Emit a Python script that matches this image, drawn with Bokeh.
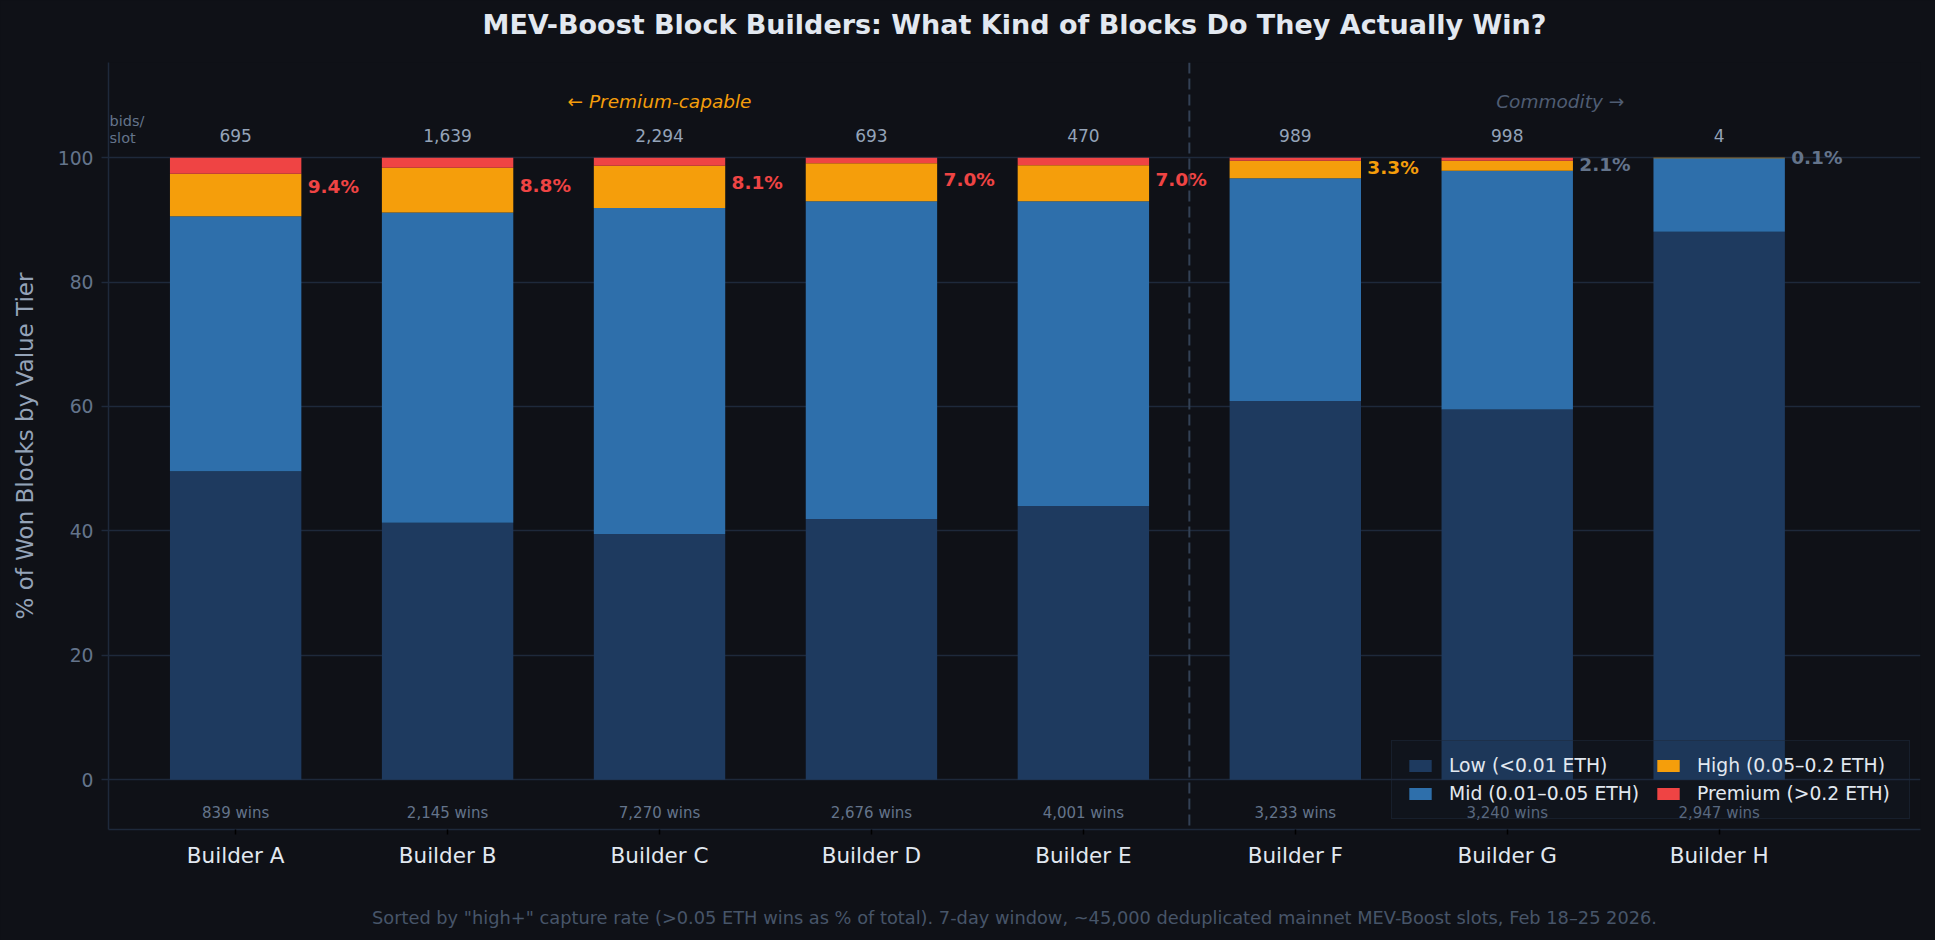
from bokeh.plotting import figure
from bokeh.models import ColumnDataSource, FixedTicker, Span, Title
from bokeh.embed import file_html
from bokeh.resources import INLINE
from bokeh.core.properties import value

# ---------------- data ----------------
builders = ["Builder A", "Builder B", "Builder C", "Builder D",
            "Builder E", "Builder F", "Builder G", "Builder H"]
low = [49.6, 41.3, 39.5, 41.9, 44.0, 60.9, 59.5, 88.1]
mid = [41.0, 49.9, 52.4, 51.1, 49.0, 35.8, 38.4, 11.8]
high = [6.8, 7.2, 6.8, 6.1, 5.8, 2.8, 1.6, 0.1]
premium = [2.6, 1.6, 1.3, 0.9, 1.2, 0.5, 0.5, 0.0]
bids_per_slot = [695, 1639, 2294, 693, 470, 989, 998, 4]
wins = [839, 2145, 7270, 2676, 4001, 3233, 3240, 2947]
tier_labels = ["Low (<0.01 ETH)", "Mid (0.01–0.05 ETH)",
               "High (0.05–0.2 ETH)", "Premium (>0.2 ETH)"]

TITLE = "MEV-Boost Block Builders: What Kind of Blocks Do They Actually Win?"
FOOTER = ('Sorted by "high+" capture rate (>0.05 ETH wins as % of total). '
          '7-day window, ~45,000 deduplicated mainnet MEV-Boost slots, Feb 18–25 2026.')

# ---------------- style ----------------
BG = "#0f1117"
GRID = "#1e293b"
C_LOW, C_MID, C_HIGH, C_PREM = "#1e3a5f", "#2e6fab", "#f59e0b", "#ef4444"
FONT = "DejaVu Sans"

xs = list(range(len(builders)))
high_plus = [round(h + p, 1) for h, p in zip(high, premium)]

src = ColumnDataSource(dict(x=xs, low=low, mid=mid, high=high, premium=premium))

p = figure(width=1935, height=940, x_range=(-0.6, 7.95), y_range=(-8, 115.3),
           output_backend="svg", toolbar_location=None,
           min_border_left=108, min_border_right=15,
           min_border_top=62, min_border_bottom=111)
p.background_fill_color = BG
p.border_fill_color = BG
p.outline_line_color = None

p.vbar_stack(["low", "mid", "high", "premium"], x="x", width=0.62,
             color=[C_LOW, C_MID, C_HIGH, C_PREM], line_color=None,
             source=src, legend_label=tier_labels)

# divider
p.add_layout(Span(location=4.5, dimension="height", line_color="#334155",
                  line_dash="11 5", line_width=2))

# percentage labels
pct_colors = [C_PREM if v >= 5 else (C_HIGH if v >= 3 else "#64748b") for v in high_plus]
pct_src = ColumnDataSource(dict(
    x=[x + 0.34 for x in xs],
    y=[100 - v / 2 for v in high_plus],
    t=[f"{v:.1f}%" for v in high_plus],
    c=pct_colors))
p.text(x="x", y="y", text="t", text_color="c", source=pct_src,
       text_font=value(FONT), text_font_style="bold", text_font_size="18.5px",
       text_align="left", text_baseline="middle")

# bids per slot
p.text(x=xs, y=[103.5] * len(xs), text=[f"{b:,}" for b in bids_per_slot],
       text_color="#94a3b8", text_font=value(FONT), text_font_size="17px",
       text_align="center", text_baseline="middle")
p.text(x=[-0.595, -0.595], y=[105.9, 103.2], text=["bids/", "slot"],
       text_color="#64748b", text_font=value(FONT), text_font_size="14.5px",
       text_align="left", text_baseline="middle")

# wins
p.text(x=xs, y=[-5.3] * len(xs), text=[f"{w:,} wins" for w in wins],
       text_color="#64748b", text_font=value(FONT), text_font_size="15px",
       text_align="center", text_baseline="middle")

# group labels
p.text(x=[2.0], y=[109], text=["← Premium-capable"], text_color=C_HIGH,
       text_font=value(FONT), text_font_style="italic", text_font_size="18.5px",
       text_align="center", text_baseline="middle")
p.text(x=[6.25], y=[109], text=["Commodity →"], text_color="#4f5d73",
       text_font=value(FONT), text_font_style="italic", text_font_size="18.5px",
       text_align="center", text_baseline="middle")

# title (outermost) with a thin spacer title between it and the frame
p.title.text = TITLE
p.title.align = "center"
p.title.text_font = FONT
p.title.text_font_size = "27px"
p.title.text_font_style = "bold"
p.title.text_color = "#e2e8f0"
p.title.standoff = 10
p.add_layout(Title(text=" ", text_font_size="1px", standoff=15), "above")

# axes
p.xaxis.ticker = FixedTicker(ticks=xs)
p.xaxis.major_label_overrides = {i: b for i, b in enumerate(builders)}
p.xaxis.major_label_text_font = FONT
p.xaxis.major_label_text_font_size = "21.5px"
p.xaxis.major_label_text_color = "#e2e8f0"
p.xaxis.major_label_standoff = 8
p.xaxis.axis_line_color = GRID
p.xaxis.axis_line_width = 1.5
p.xaxis.major_tick_line_color = "#000000"
p.xaxis.major_tick_line_width = 1.5
p.xaxis.major_tick_out = 5
p.xaxis.major_tick_in = 0
p.xaxis.minor_tick_line_color = None
p.xaxis.axis_label = FOOTER
p.xaxis.axis_label_text_font = FONT
p.xaxis.axis_label_text_font_size = "17.8px"
p.xaxis.axis_label_text_font_style = "normal"
p.xaxis.axis_label_text_color = "#475569"
p.xaxis.axis_label_standoff = 36

p.yaxis.ticker = FixedTicker(ticks=[0, 20, 40, 60, 80, 100])
p.yaxis.major_label_text_font = FONT
p.yaxis.major_label_text_font_size = "18.75px"
p.yaxis.major_label_text_color = "#64748b"
p.yaxis.major_label_standoff = 8
p.yaxis.axis_line_color = GRID
p.yaxis.axis_line_width = 1.5
p.yaxis.major_tick_line_color = GRID
p.yaxis.major_tick_line_width = 1.5
p.yaxis.major_tick_out = 7
p.yaxis.major_tick_in = 0
p.yaxis.minor_tick_line_color = None
p.yaxis.axis_label = "% of Won Blocks by Value Tier"
p.yaxis.axis_label_text_font = FONT
p.yaxis.axis_label_text_font_size = "23px"
p.yaxis.axis_label_text_font_style = "normal"
p.yaxis.axis_label_text_color = "#94a3b8"
p.yaxis.axis_label_standoff = 17

p.xgrid.visible = False
p.ygrid.grid_line_color = GRID
p.ygrid.grid_line_width = 1.5

# legend
lg = p.legend[0]
lg.location = "bottom_right"
lg.ncols = 2
lg.label_text_font = FONT
lg.label_text_font_size = "18.75px"
lg.label_text_color = "#e2e8f0"
lg.glyph_width = 28
lg.glyph_height = 15
lg.label_standoff = 15
lg.label_width = 198
lg.spacing = 7
lg.padding = 14
lg.margin = 10
lg.background_fill_color = "#1e293b"
lg.background_fill_alpha = 0.15
lg.border_line_color = GRID
lg.border_line_width = 1.5

html = file_html(p, INLINE)
html = html.replace("</head>", "<style>body{background:#0f1117;}</style></head>", 1)
open("out.html", "w").write(html)
